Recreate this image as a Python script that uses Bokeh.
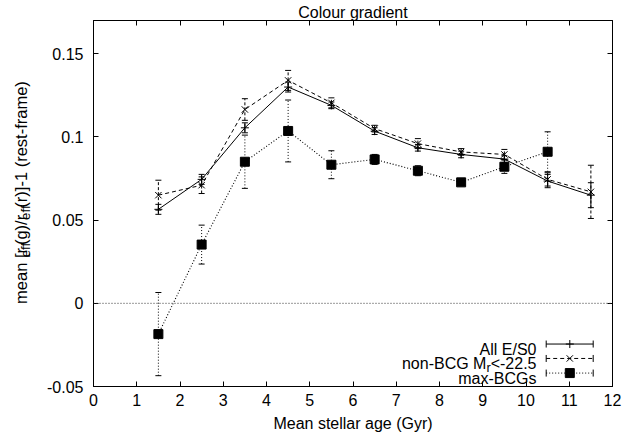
import numpy as np
from bokeh.plotting import figure
from bokeh.layouts import row
from bokeh.models import (Range1d, FixedTicker, LinearAxis, Span, Label,
                          CustomLabelingPolicy)
from bokeh.core.properties import value
from bokeh.embed import file_html
from bokeh.resources import INLINE

# ---------------- data ----------------
age = [1.5, 2.5, 3.5, 4.5, 5.5, 6.5, 7.5, 8.5, 9.5, 10.5, 11.5]
all_es0 = [0.0565, 0.0745, 0.1055, 0.130, 0.119, 0.1035, 0.0935, 0.0895, 0.0867, 0.0735, 0.065]
all_es0_err = [0.003, 0.003, 0.003, 0.003, 0.002, 0.002, 0.002, 0.002, 0.002, 0.004, 0.0075]
nonbcg = [0.065, 0.071, 0.1165, 0.134, 0.1205, 0.105, 0.096, 0.091, 0.0895, 0.0745, 0.067]
nonbcg_err = [0.009, 0.005, 0.0065, 0.006, 0.003, 0.002, 0.003, 0.002, 0.003, 0.004, 0.016]
bcg_age = [1.5, 2.5, 3.5, 4.5, 5.5, 6.5, 7.5, 8.5, 9.5, 10.5]
maxbcg = [-0.0185, 0.0353, 0.0851, 0.1036, 0.0833, 0.0865, 0.0797, 0.0727, 0.0821, 0.0911]
maxbcg_err = [0.025, 0.0117, 0.016, 0.0186, 0.0084, 0.003, 0.003, 0.002, 0.004, 0.012]

x_ticks = list(range(0, 13))
y_ticks = [-0.05, 0, 0.05, 0.1, 0.15]
y_tick_labels = ["-0.05", "0", "0.05", "0.1", "0.15"]

title_text = "Colour gradient"
x_label = "Mean stellar age (Gyr)"
y_label_parts = ["mean [r", "eff", "(g)/r", "eff", "(r)]-1 (rest-frame)"]
y_label_is_sub = [False, True, False, True, False]
legend_names = ["All E/S0", "non-BCG M", "max-BCGs"]

FONT = "Liberation Sans"
FS = 16.0
SUB = 12.8
YFS = 16.5
YSUB = 13.2

# Arial / Liberation Sans advance widths (per 1000 em)
AFM = {'m': 833, 'e': 556, 'a': 556, 'n': 556, ' ': 278, '[': 278, 'r': 333, '(': 333,
       'g': 556, ')': 333, '/': 278, ']': 278, '-': 333, '1': 556, 's': 500, 't': 278,
       'f': 278, 'o': 556, 'B': 667, 'C': 722, 'G': 778, 'M': 833, '<': 584, '2': 556,
       '.': 278, '5': 556, 'A': 667, 'l': 222, 'E': 667, 'S': 667, '0': 556, 'x': 500}


def tw(s, size):
    return sum(AFM.get(c, 556) for c in s) * size / 1000.0


W, H = 624, 439
LAB_W = 40                      # width of the strip that holds the y-axis title
LEFT, RIGHT, TOP, BOTTOM = 93, 12, 18, 53   # frame borders in page pixels
XMIN, XMAX, YMIN, YMAX = 0, 12, -0.05, 0.17
PX_X = (W - LEFT - RIGHT) / (XMAX - XMIN)
PX_Y = (H - TOP - BOTTOM) / (YMAX - YMIN)


def sx2d(sx):
    return XMIN + (sx - LEFT) / PX_X


def sy2d(sy):
    return YMIN + (H - BOTTOM - sy) / PX_Y


# ---------------- y-axis title strip ----------------
fy = figure(width=LAB_W, height=H, x_range=Range1d(0, LAB_W), y_range=Range1d(0, H),
            output_backend="svg", toolbar_location=None, min_border=0,
            x_axis_location=None, y_axis_location=None)
fy.outline_line_color = None
fy.grid.visible = False
fy.background_fill_color = "white"
fy.border_fill_color = "white"

base_x = 20.5
start_y = 340.0
pos = 0.0
for txt, sub in zip(y_label_parts, y_label_is_sub):
    size = YSUB if sub else YFS
    fy.text(x=[base_x + (4.5 if sub else 0)], y=[H - (start_y - pos)], text=[txt],
            angle=np.pi / 2, text_align="left", text_baseline="alphabetic",
            text_font=value(FONT), text_font_size=value("%gpx" % size),
            text_color="black")
    pos += tw(txt, size)

# ---------------- main plot ----------------
p = figure(width=W - LAB_W, height=H, x_range=Range1d(XMIN, XMAX),
           y_range=Range1d(YMIN, YMAX),
           output_backend="svg", toolbar_location=None,
           min_border_left=LEFT - LAB_W, min_border_right=RIGHT,
           min_border_top=TOP, min_border_bottom=BOTTOM)
p.grid.visible = False
p.outline_line_color = "black"
p.outline_line_width = 1
p.background_fill_color = "white"
p.border_fill_color = "white"

bottom_axis = p.below[0]
left_axis = p.left[0]
top_axis = LinearAxis()
right_axis = LinearAxis()
p.add_layout(top_axis, "above")
p.add_layout(right_axis, "right")

for ax in [bottom_axis, top_axis]:
    ax.ticker = FixedTicker(ticks=x_ticks)
for ax in [left_axis, right_axis]:
    ax.ticker = FixedTicker(ticks=y_ticks)

for ax in [bottom_axis, left_axis, top_axis, right_axis]:
    ax.major_tick_in = 5
    ax.major_tick_out = 0
    ax.minor_tick_in = 0
    ax.minor_tick_out = 0
    ax.axis_line_color = "black"
    ax.major_tick_line_color = "black"
    ax.major_label_text_font = FONT
    ax.major_label_text_font_size = "%gpx" % FS
    ax.major_label_text_color = "black"
    ax.axis_label_text_font = FONT
    ax.axis_label_text_font_size = "%gpx" % FS
    ax.axis_label_text_font_style = "normal"
    ax.axis_label_text_color = "black"

for ax in [top_axis, right_axis]:
    ax.major_label_text_font_size = "0px"
    ax.major_label_standoff = 0
    ax.major_label_policy = CustomLabelingPolicy(
        code="for (const i of Array.from(indices)) { indices.unset(i) }; return indices")

top_axis.axis_label = title_text
top_axis.axis_label_standoff = 0

left_axis.major_label_overrides = {t: s for t, s in zip(y_ticks, y_tick_labels)}
left_axis.major_label_standoff = 10
bottom_axis.major_label_standoff = 7
bottom_axis.axis_label = x_label
bottom_axis.axis_label_standoff = 6

# zero axis
p.add_layout(Span(location=0, dimension="width", line_color="#333333",
                  line_dash="1 2", line_width=1))

# ---------------- series ----------------
def errbars(x, y, e, dash, cap=6):
    lo = [a - b for a, b in zip(y, e)]
    hi = [a + b for a, b in zip(y, e)]
    p.segment(x, lo, x, hi, line_color="black", line_width=1, line_dash=dash)
    p.scatter(x, lo, marker="dash", size=cap, line_color="black", line_width=1)
    p.scatter(x, hi, marker="dash", size=cap, line_color="black", line_width=1)

# All E/S0
p.line(age, all_es0, line_color="black", line_width=1)
errbars(age, all_es0, all_es0_err, "solid")
p.scatter(age, all_es0, marker="cross", size=8, line_color="black", line_width=1)

# non-BCG
p.line(age, nonbcg, line_color="black", line_width=1, line_dash="4 3")
errbars(age, nonbcg, nonbcg_err, "3 2")
p.scatter(age, nonbcg, marker="x", size=9, line_color="black", line_width=1)

# max-BCGs
p.line(bcg_age, maxbcg, line_color="black", line_width=1.1, line_dash="1 2")
errbars(bcg_age, maxbcg, maxbcg_err, "1 2")
p.scatter(bcg_age, maxbcg, marker="square", size=9, fill_color="black", line_color="black")

# ---------------- legend ----------------
leg_rows = [343.3, 357.8, 372.5]
leg_text_right = 536.0
lx1, lx2, lxm = sx2d(545.7), sx2d(592.7), sx2d(569.3)
dashes = ["solid", "4 3", "1 2"]
markers = ["cross", "x", "square"]
msizes = [8, 9, 9]
for i, sy in enumerate(leg_rows):
    ly = sy2d(sy)
    p.line([lx1, lx2], [ly, ly], line_color="black", line_width=1, line_dash=dashes[i])
    p.scatter([lx1, lx2], [ly, ly], marker="dash", angle=np.pi / 2, size=7,
              line_color="black", line_width=1)
    p.scatter([lxm], [ly], marker=markers[i], size=msizes[i], line_color="black",
              fill_color="black", line_width=1)
    if i == 1:
        parts = [("<-22.5", False), ("r", True), ("non-BCG M", False)]
    else:
        parts = [(legend_names[i], False)]
    off = 0.0
    for txt, sub in parts:
        size = SUB if sub else FS
        p.add_layout(Label(x=sx2d(leg_text_right - off),
                           y=sy2d(sy + 5 + (4 if sub else 0)), text=txt,
                           text_align="right", text_baseline="alphabetic",
                           text_font=FONT, text_font_size="%gpx" % size,
                           text_color="black"))
        off += tw(txt, size)

layout = row(fy, p, spacing=0)
open("out.html", "w").write(file_html(layout, INLINE))
